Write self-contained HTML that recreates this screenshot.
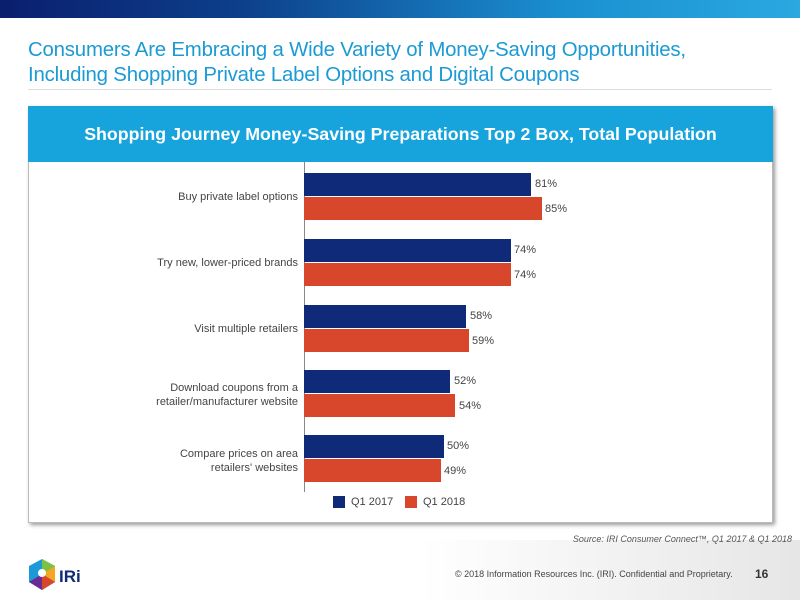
<!DOCTYPE html>
<html><head><style>
body{margin:0;width:800px;height:600px;position:relative;background:#fff;font-family:"Liberation Sans",Arial,sans-serif;overflow:hidden}
.a{position:absolute}
.top{left:0;top:0;width:800px;height:18px;background:linear-gradient(90deg,#0a1f6e 0%,#0d3f8a 30%,#1a8fd0 70%,#2aa8e0 100%)}
.title{left:28px;top:38px;font-size:20.4px;line-height:25px;color:#1b9ad4;letter-spacing:-0.2px}
.hr{left:28px;top:89px;width:744px;height:1px;background:#ddd}
.box{left:28px;top:106px;width:745px;height:417px;border:1px solid #bbb;box-shadow:2px 2px 4px #999;box-sizing:border-box}
.hdr{left:28px;top:106px;width:745px;height:56px;background:#17a3db;color:#fff;font-weight:bold;font-size:17.8px;text-align:center;line-height:56px}
.axis{left:304px;top:162px;width:1px;height:330px;background:#888}
.n{background:#0e2a78;height:23px;left:304px}
.o{background:#d8472b;height:23px;left:304px}
.v{font-size:11px;color:#444}
.c{font-size:11px;color:#444;text-align:right;width:270px;left:28px;line-height:14px}
.foot{left:420px;top:540px;width:380px;height:60px;background:linear-gradient(90deg,#fff,#e6e6e6)}
</style></head><body>
<div class="a top"></div>
<div class="a title">Consumers Are Embracing a Wide Variety of Money-Saving Opportunities,<br>Including Shopping Private Label Options and Digital Coupons</div>
<div class="a hr"></div>
<div class="a box"></div>
<div class="a hdr">Shopping Journey Money-Saving Preparations Top 2 Box, Total Population</div>
<div class="a axis"></div>

<div class="a n" style="top:173px;width:227px"></div><div class="a v" style="left:535px;top:178px">81%</div>
<div class="a o" style="top:197px;width:238px"></div><div class="a v" style="left:545px;top:203px">85%</div>
<div class="a c" style="top:190px">Buy private label options</div>

<div class="a n" style="top:239px;width:207px"></div><div class="a v" style="left:514px;top:244px">74%</div>
<div class="a o" style="top:263px;width:207px"></div><div class="a v" style="left:514px;top:269px">74%</div>
<div class="a c" style="top:256px">Try new, lower-priced brands</div>

<div class="a n" style="top:305px;width:162px"></div><div class="a v" style="left:470px;top:310px">58%</div>
<div class="a o" style="top:329px;width:165px"></div><div class="a v" style="left:472px;top:335px">59%</div>
<div class="a c" style="top:322px">Visit multiple retailers</div>

<div class="a n" style="top:370px;width:146px"></div><div class="a v" style="left:454px;top:375px">52%</div>
<div class="a o" style="top:394px;width:151px"></div><div class="a v" style="left:459px;top:400px">54%</div>
<div class="a c" style="top:381px">Download coupons from a<br>retailer/manufacturer website</div>

<div class="a n" style="top:435px;width:140px"></div><div class="a v" style="left:447px;top:440px">50%</div>
<div class="a o" style="top:459px;width:137px"></div><div class="a v" style="left:444px;top:465px">49%</div>
<div class="a c" style="top:447px">Compare prices on area<br>retailers' websites</div>

<div class="a" style="left:333px;top:496px;width:12px;height:12px;background:#0e2a78"></div>
<div class="a v" style="left:351px;top:496px">Q1 2017</div>
<div class="a" style="left:405px;top:496px;width:12px;height:12px;background:#d8472b"></div>
<div class="a v" style="left:423px;top:496px">Q1 2018</div>

<div class="a foot"></div>
<div class="a" style="right:8px;top:534px;font-size:9px;font-style:italic;color:#555">Source: IRI Consumer Connect™, Q1 2017 &amp; Q1 2018</div>
<svg class="a" style="left:28px;top:558px" width="60" height="34" viewBox="0 0 60 34">
<polygon points="14,1 27,8 27,24 14,32 1,24 1,8" fill="#1a9ad6"/>
<polygon points="14,1 27,8 14,16" fill="#7cc242"/>
<polygon points="27,8 27,24 14,16" fill="#f5a623"/>
<polygon points="27,24 14,32 14,16" fill="#d8472b"/>
<polygon points="14,32 1,24 14,16" fill="#6a2c91"/>
<circle cx="14" cy="15" r="4" fill="#fff"/>
<text x="31" y="24" font-family="Liberation Sans" font-weight="bold" font-size="17" fill="#0e2a78">IRi</text>
</svg>
<div class="a" style="left:455px;top:569px;font-size:9px;color:#444">© 2018 Information Resources Inc. (IRI). Confidential and Proprietary.</div>
<div class="a" style="left:755px;top:567px;font-size:12px;font-weight:bold;color:#333">16</div>
</body></html>
